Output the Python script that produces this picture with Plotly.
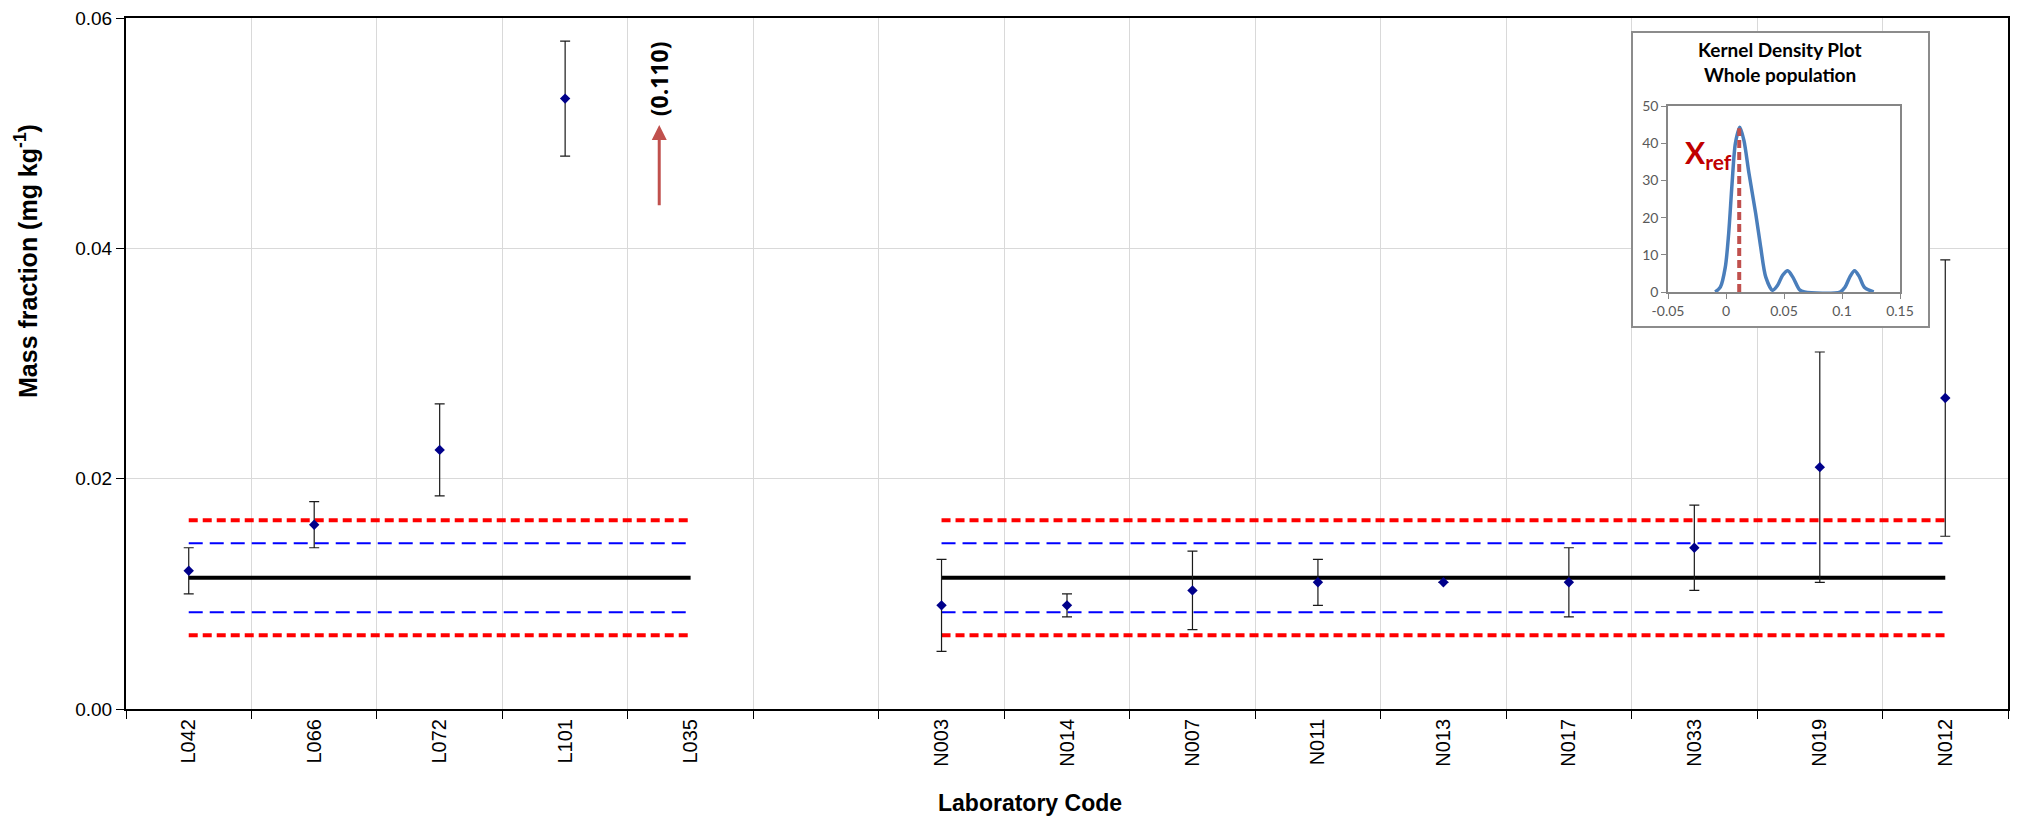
import plotly.graph_objects as go

# ---------------- data ----------------
lab_codes = ["L042", "L066", "L072", "L101", "L035", " ",
             "N003", "N014", "N007", "N011", "N013", "N017", "N033", "N019", "N012"]
mass_fraction = [0.012, 0.016, 0.0225, 0.053, 0.110, None,
                 0.009, 0.009, 0.0103, 0.011, 0.011, 0.011, 0.014, 0.021, 0.027]
uncertainty = [0.002, 0.002, 0.004, 0.005, None, None,
               0.004, 0.001, 0.0034, 0.002, None, 0.003, 0.0037, 0.010, 0.012]
group_L = ["L042", "L035"]
group_N = ["N003", "N012"]
x_ref = 0.0114
blue_half = 0.003
red_half = 0.005
y_ticks = [0.00, 0.02, 0.04, 0.06]
y_max = 0.06

# kernel density curve
kde_x = [-0.0093, -0.0049, -0.0006, 0.0023, 0.0052, 0.0081, 0.0119, 0.0154, 0.0198,
         0.0256, 0.0299, 0.0343, 0.0401, 0.0445, 0.0488, 0.0532, 0.0576, 0.0634,
         0.0677, 0.0983, 0.1026, 0.1070, 0.1108, 0.1148, 0.1192, 0.1273]
kde_y = [0, 1.3, 6.7, 15.7, 29, 40, 44.3, 40.8, 31.9,
         21.1, 12.1, 4.0, 0.45, 1.8, 4.5, 5.7, 4.0, 0.6,
         0, 0, 1.3, 4.2, 5.7, 4.2, 1.3, 0]
kde_xticks = [-0.05, 0, 0.05, 0.1, 0.15]
kde_xtext = ["-0.05", "0", "0.05", "0.1", "0.15"]
kde_peak = 44

# ---------------- figure ----------------
fig = go.Figure()

# ensure every category slot exists
fig.add_trace(go.Scatter(x=lab_codes, y=[None] * len(lab_codes), mode="markers",
                         showlegend=False, hoverinfo="skip"))

for grp in (group_L, group_N):
    fig.add_trace(go.Scatter(x=grp, y=[x_ref + red_half] * 2, mode="lines",
                             line=dict(color="#ff0000", width=4, dash="9px,5px"), hoverinfo="skip"))
    fig.add_trace(go.Scatter(x=grp, y=[x_ref - red_half] * 2, mode="lines",
                             line=dict(color="#ff0000", width=4, dash="9px,5px"), hoverinfo="skip"))
    fig.add_trace(go.Scatter(x=grp, y=[x_ref + blue_half] * 2, mode="lines",
                             line=dict(color="#0000ff", width=2, dash="14px,7px"), hoverinfo="skip"))
    fig.add_trace(go.Scatter(x=grp, y=[x_ref - blue_half] * 2, mode="lines",
                             line=dict(color="#0000ff", width=2, dash="14px,7px"), hoverinfo="skip"))
    fig.add_trace(go.Scatter(x=grp, y=[x_ref] * 2, mode="lines",
                             line=dict(color="#000000", width=4), hoverinfo="skip"))

px_, py_, pe_ = [], [], []
for c, v, u in zip(lab_codes, mass_fraction, uncertainty):
    if v is not None and v <= y_max:
        px_.append(c)
        py_.append(v)
        pe_.append(u)
fig.add_trace(go.Scatter(
    x=px_, y=py_, mode="markers",
    marker=dict(symbol="diamond", size=8, color="#00008b"),
    error_y=dict(type="data", array=pe_, visible=True, color="#1a1a1a", thickness=1.2, width=5),
    showlegend=False))

# inset frame (opaque background subplot)
fig.add_trace(go.Scatter(x=[None], y=[None], xaxis="x2", yaxis="y2", showlegend=False, hoverinfo="skip"))
# inset KDE
fig.add_trace(go.Scatter(x=kde_x, y=kde_y, xaxis="x3", yaxis="y3", mode="lines",
                         line=dict(color="#4a7ebb", width=3.5, shape="spline", smoothing=0.8),
                         showlegend=False, hoverinfo="skip"))
fig.add_trace(go.Scatter(x=[x_ref, x_ref], y=[0, kde_peak], xaxis="x3", yaxis="y3", mode="lines",
                         line=dict(color="#c0504d", width=4, dash="8px,4px"),
                         showlegend=False, hoverinfo="skip"))

# page is offset by the default 8px body margin
OFF = 8
W, H = 2022 - OFF, 817 - OFF
ml, mt = 126 - OFF, 18 - OFF
mr = W - (2008 - OFF)
mb = H - (709 - OFF)
pw, ph = W - ml - mr, H - mt - mb


def pxx(p):  # page pixel -> paper x
    return (p - OFF - ml) / pw


def pyy(p):  # page pixel -> paper y
    return (H - mb - (p - OFF)) / ph


base_font = "Liberation Sans, Arial, sans-serif"
inset_font = "Lato, Open Sans, sans-serif"

fig.update_layout(
    width=W, height=H,
    margin=dict(l=ml, r=mr, t=mt, b=mb, autoexpand=False),
    paper_bgcolor="white", plot_bgcolor="white",
    showlegend=False,
    font=dict(family=base_font, color="black"),
    xaxis=dict(type="category", categoryorder="array", categoryarray=lab_codes,
               range=[-0.5, len(lab_codes) - 0.5], tickson="boundaries",
               ticks="outside", ticklen=8, tickcolor="black", tickwidth=1,
               showgrid=True, gridcolor="#d9d9d9", gridwidth=1,
               showline=True, linecolor="black", linewidth=2, mirror=True,
               tickangle=-90, tickfont=dict(size=20, family=base_font, color="black"),
               zeroline=False, fixedrange=True, automargin=False),
    yaxis=dict(range=[0, y_max], tickvals=y_ticks, tickformat=".2f",
               ticks="outside", ticklen=8, tickcolor="black",
               showgrid=True, gridcolor="#d9d9d9", gridwidth=1,
               showline=True, linecolor="black", linewidth=2, mirror=True,
               zeroline=False, tickfont=dict(size=19, family=base_font, color="black"),
               ticklabeloverflow="allow",
               fixedrange=True, automargin=False),
    xaxis2=dict(domain=[pxx(1633), pxx(1928)], anchor="y2", range=[0, 1],
                showline=True, mirror=True, linecolor="#8c8c8c", linewidth=2,
                showgrid=False, zeroline=False, showticklabels=False, ticks="",
                automargin=False),
    yaxis2=dict(domain=[pyy(326), pyy(33)], anchor="x2", range=[0, 1],
                showline=True, mirror=True, linecolor="#8c8c8c", linewidth=2,
                showgrid=False, zeroline=False, showticklabels=False, ticks="",
                automargin=False),
    xaxis3=dict(domain=[pxx(1668), pxx(1900)], anchor="y3", range=[-0.05, 0.15],
                tickvals=kde_xticks, ticktext=kde_xtext, ticks="outside", ticklen=5,
                tickcolor="#868686", showline=True, mirror=True, linecolor="#868686",
                linewidth=1.5, showgrid=False, zeroline=False, automargin=False,
                tickfont=dict(size=14, family=inset_font, color="#595959")),
    yaxis3=dict(domain=[pyy(292), pyy(106)], anchor="x3", range=[0, 50], dtick=10,
                ticks="outside", ticklen=5, tickcolor="#868686",
                showline=True, mirror=True, linecolor="#868686", linewidth=1.5,
                showgrid=False, zeroline=False, automargin=False,
                tickfont=dict(size=14, family=inset_font, color="#595959")),
)

off_idx = lab_codes.index("L035")
annotations = [
    dict(x=off_idx - 0.25, y=0.0507, ax=off_idx - 0.25, ay=0.0436, xref="x", yref="y",
         axref="x", ayref="y", text="", showarrow=True, arrowhead=2, arrowsize=1,
         arrowwidth=3, arrowcolor="#c0504d"),
    dict(x=off_idx - 0.25, y=0.0547, xref="x", yref="y", showarrow=False,
         xanchor="center", yanchor="middle",
         text="({:.3f})".format(mass_fraction[off_idx]), textangle=-90,
         font=dict(size=23, family="Open Sans, sans-serif", color="black", weight="bold")),
    dict(x=pxx(26), y=pyy(261), xref="paper", yref="paper", showarrow=False,
         xanchor="center", yanchor="middle",
         text="Mass fraction (mg kg<sup>-1</sup>)", textangle=-90,
         font=dict(size=25, family=base_font, color="black", weight="bold")),
    dict(x=pxx(1030), y=pyy(803), xref="paper", yref="paper", showarrow=False,
         xanchor="center", yanchor="middle",
         text="Laboratory Code",
         font=dict(size=23, family=base_font, color="black", weight="bold")),
    dict(x=pxx(1780), y=pyy(49), xref="paper", yref="paper", showarrow=False,
         xanchor="center", yanchor="middle",
         text="Kernel Density Plot",
         font=dict(size=19, family=inset_font, color="black", weight="bold")),
    dict(x=pxx(1780), y=pyy(74), xref="paper", yref="paper", showarrow=False,
         xanchor="center", yanchor="middle",
         text="Whole population",
         font=dict(size=19, family=inset_font, color="black", weight="bold")),
    dict(x=0.007, y=37, xref="x3", yref="y3", xanchor="right", yanchor="middle",
         showarrow=False, text="X<sub>ref</sub>",
         font=dict(size=30, family=inset_font, color="#c00000", weight="bold")),
]
fig.update_layout(annotations=annotations)

fig.add_shape(type="line", xref="paper", yref="paper", x0=pxx(2017), x1=pxx(2017),
              y0=pyy(817), y1=pyy(0), line=dict(color="black", width=1.5))

fig.write_html("out.html")
